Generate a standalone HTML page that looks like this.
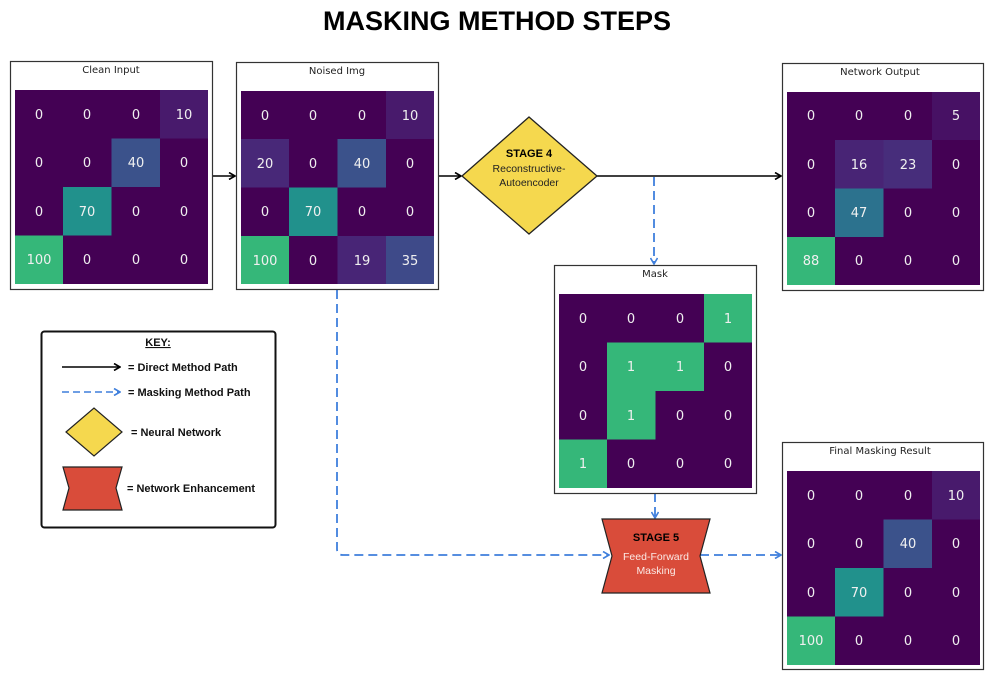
<!DOCTYPE html>
<html><head><meta charset="utf-8"><style>
html,body{margin:0;padding:0;background:#fff;width:995px;height:680px;overflow:hidden}
svg{display:block;font-family:"DejaVu Sans","Liberation Sans",sans-serif}
.c text{fill:#f0f0f0;font-size:13px;text-anchor:middle}
.t{font-size:10px;fill:#222;text-anchor:middle}
.k{font-family:"Liberation Sans",sans-serif;font-weight:bold;font-size:11px;fill:#111}
</style></head><body>
<svg width="995" height="680" viewBox="0 0 995 680">
<defs>
<marker id="ab" markerWidth="8" markerHeight="8" refX="7" refY="4" orient="auto" markerUnits="userSpaceOnUse"><path d="M1,0.5 L7,4 L1,7.5" fill="none" stroke="#000" stroke-width="1.6"/></marker>
<marker id="ad" markerWidth="8" markerHeight="8" refX="7" refY="4" orient="auto" markerUnits="userSpaceOnUse"><path d="M1,0.5 L7,4 L1,7.5" fill="none" stroke="#3f7fdc" stroke-width="1.6"/></marker>
</defs>
<text x="497" y="30" font-family="Liberation Sans,sans-serif" font-weight="bold" font-size="27" text-anchor="middle" fill="#000">MASKING METHOD STEPS</text>

<!-- connectors -->
<g stroke="#000" stroke-width="1.6" fill="none">
<line x1="212" y1="176" x2="235" y2="176" marker-end="url(#ab)"/>
<line x1="438" y1="176" x2="461" y2="176" marker-end="url(#ab)"/>
<line x1="597" y1="176" x2="781" y2="176" marker-end="url(#ab)"/>
</g>
<g stroke="#3f7fdc" stroke-width="1.8" fill="none" stroke-dasharray="9,5">
<line x1="654" y1="177" x2="654" y2="264" marker-end="url(#ad)"/>
<path d="M337,290 V549 Q337,555 343,555 H609" marker-end="url(#ad)"/>
<line x1="655" y1="493" x2="655" y2="518" marker-end="url(#ad)"/>
<line x1="700" y1="555" x2="781" y2="555" marker-end="url(#ad)"/>
</g>

<!-- Clean Input -->
<rect x="10.5" y="61.5" width="202" height="228" fill="none" stroke="#333" stroke-width="1.2"/>
<text class="t" x="111" y="73">Clean Input</text>
<g class="c">
<rect x="15" y="90" width="193" height="194" fill="#440154"/>
<rect x="160" y="90" width="48" height="48.5" fill="#481a6c"/>
<rect x="111.5" y="138.5" width="48.5" height="48.5" fill="#3b528b"/>
<rect x="63" y="187" width="48.5" height="48.5" fill="#21918c"/>
<rect x="15" y="235.5" width="48" height="48.5" fill="#35b779"/>
<text x="39" y="119">0</text><text x="87" y="119">0</text><text x="136" y="119">0</text><text x="184" y="119">10</text>
<text x="39" y="167">0</text><text x="87" y="167">0</text><text x="136" y="167">40</text><text x="184" y="167">0</text>
<text x="39" y="216">0</text><text x="87" y="216">70</text><text x="136" y="216">0</text><text x="184" y="216">0</text>
<text x="39" y="264">100</text><text x="87" y="264">0</text><text x="136" y="264">0</text><text x="184" y="264">0</text>
</g>

<!-- Noised -->
<rect x="236.5" y="62.5" width="202" height="227" fill="none" stroke="#333" stroke-width="1.2"/>
<text class="t" x="337" y="74">Noised Img</text>
<g class="c">
<rect x="241" y="91" width="193" height="193" fill="#440154"/>
<rect x="386" y="91" width="48" height="48" fill="#481a6c"/>
<rect x="241" y="139" width="48" height="48.5" fill="#482878"/>
<rect x="337.5" y="139" width="48.5" height="48.5" fill="#3b528b"/>
<rect x="289" y="187.5" width="48.5" height="48.5" fill="#21918c"/>
<rect x="241" y="236" width="48" height="48" fill="#35b779"/>
<rect x="337.5" y="236" width="48.5" height="48" fill="#482576"/>
<rect x="386" y="236" width="48" height="48" fill="#3e4a89"/>
<text x="265" y="120">0</text><text x="313" y="120">0</text><text x="362" y="120">0</text><text x="410" y="120">10</text>
<text x="265" y="168">20</text><text x="313" y="168">0</text><text x="362" y="168">40</text><text x="410" y="168">0</text>
<text x="265" y="216">0</text><text x="313" y="216">70</text><text x="362" y="216">0</text><text x="410" y="216">0</text>
<text x="265" y="265">100</text><text x="313" y="265">0</text><text x="362" y="265">19</text><text x="410" y="265">35</text>
</g>

<!-- Diamond -->
<polygon points="462,176 529,117 597,176 529,234" fill="#f5d84e" stroke="#222" stroke-width="1.3"/>
<text x="529" y="157" text-anchor="middle" font-family="Liberation Sans,sans-serif" font-weight="bold" font-size="11">STAGE 4</text>
<text x="529" y="172" text-anchor="middle" font-family="Liberation Sans,sans-serif" font-size="10.5" fill="#222">Reconstructive-</text>
<text x="529" y="186" text-anchor="middle" font-family="Liberation Sans,sans-serif" font-size="10.5" fill="#222">Autoencoder</text>

<!-- Network Output -->
<rect x="782.5" y="63.5" width="201" height="227" fill="none" stroke="#333" stroke-width="1.2"/>
<text class="t" x="880" y="75">Network Output</text>
<g class="c">
<rect x="787" y="92" width="193" height="193" fill="#440154"/>
<rect x="932" y="92" width="48" height="48" fill="#471164"/>
<rect x="835" y="140" width="48.5" height="48.5" fill="#482475"/>
<rect x="883.5" y="140" width="48.5" height="48.5" fill="#472d7b"/>
<rect x="835" y="188.5" width="48.5" height="48.5" fill="#2c728e"/>
<rect x="787" y="237" width="48" height="48" fill="#35b779"/>
<text x="811" y="120">0</text><text x="859" y="120">0</text><text x="908" y="120">0</text><text x="956" y="120">5</text>
<text x="811" y="169">0</text><text x="859" y="169">16</text><text x="908" y="169">23</text><text x="956" y="169">0</text>
<text x="811" y="217">0</text><text x="859" y="217">47</text><text x="908" y="217">0</text><text x="956" y="217">0</text>
<text x="811" y="265">88</text><text x="859" y="265">0</text><text x="908" y="265">0</text><text x="956" y="265">0</text>
</g>

<!-- Mask -->
<rect x="554.5" y="265.5" width="202" height="228" fill="none" stroke="#333" stroke-width="1.2"/>
<text class="t" x="655" y="277">Mask</text>
<g class="c">
<rect x="559" y="294" width="193" height="194" fill="#440154"/>
<rect x="704" y="294" width="48" height="48.5" fill="#35b779"/>
<rect x="607" y="342.5" width="97" height="48.5" fill="#35b779"/>
<rect x="607" y="391" width="48.5" height="48.5" fill="#35b779"/>
<rect x="559" y="439.5" width="48" height="48.5" fill="#35b779"/>
<text x="583" y="323">0</text><text x="631" y="323">0</text><text x="680" y="323">0</text><text x="728" y="323">1</text>
<text x="583" y="371">0</text><text x="631" y="371">1</text><text x="680" y="371">1</text><text x="728" y="371">0</text>
<text x="583" y="420">0</text><text x="631" y="420">1</text><text x="680" y="420">0</text><text x="728" y="420">0</text>
<text x="583" y="468">1</text><text x="631" y="468">0</text><text x="680" y="468">0</text><text x="728" y="468">0</text>
</g>

<!-- Stage 5 -->
<polygon points="602,519 710,519 700,556 710,593 602,593 612,556" fill="#d94c3a" stroke="#222" stroke-width="1.2"/>
<text x="656" y="541" text-anchor="middle" font-family="Liberation Sans,sans-serif" font-weight="bold" font-size="11">STAGE 5</text>
<text x="656" y="560" text-anchor="middle" font-family="Liberation Sans,sans-serif" font-size="10.5" fill="#fbe9e5">Feed-Forward</text>
<text x="656" y="574" text-anchor="middle" font-family="Liberation Sans,sans-serif" font-size="10.5" fill="#fbe9e5">Masking</text>

<!-- Final -->
<rect x="782.5" y="442.5" width="201" height="227" fill="none" stroke="#333" stroke-width="1.2"/>
<text class="t" x="880" y="454">Final Masking Result</text>
<g class="c">
<rect x="787" y="471" width="193" height="194" fill="#440154"/>
<rect x="932" y="471" width="48" height="48.5" fill="#481a6c"/>
<rect x="883.5" y="519.5" width="48.5" height="48.5" fill="#3b528b"/>
<rect x="835" y="568" width="48.5" height="48.5" fill="#21918c"/>
<rect x="787" y="616.5" width="48" height="48.5" fill="#35b779"/>
<text x="811" y="500">0</text><text x="859" y="500">0</text><text x="908" y="500">0</text><text x="956" y="500">10</text>
<text x="811" y="548">0</text><text x="859" y="548">0</text><text x="908" y="548">40</text><text x="956" y="548">0</text>
<text x="811" y="597">0</text><text x="859" y="597">70</text><text x="908" y="597">0</text><text x="956" y="597">0</text>
<text x="811" y="645">100</text><text x="859" y="645">0</text><text x="908" y="645">0</text><text x="956" y="645">0</text>
</g>

<!-- Key -->
<rect x="41.5" y="331.5" width="234" height="196" rx="3" fill="#fff" stroke="#111" stroke-width="2"/>
<text class="k" x="158" y="346" text-anchor="middle" text-decoration="underline">KEY:</text>
<line x1="62" y1="367" x2="120" y2="367" stroke="#000" stroke-width="1.5" marker-end="url(#ab)"/>
<text class="k" x="128" y="371">= Direct Method Path</text>
<line x1="62" y1="392" x2="120" y2="392" stroke="#3f7fdc" stroke-width="1.6" stroke-dasharray="7,4" marker-end="url(#ad)"/>
<text class="k" x="128" y="396">= Masking Method Path</text>
<polygon points="66,432 94,408 122,432 94,456" fill="#f5d84e" stroke="#222" stroke-width="1.2"/>
<text class="k" x="131" y="436">= Neural Network</text>
<polygon points="63,467 122,467 116,488 122,510 63,510 69,488" fill="#d94c3a" stroke="#222" stroke-width="1.2"/>
<text class="k" x="127" y="492">= Network Enhancement</text>
</svg>
</body></html>
